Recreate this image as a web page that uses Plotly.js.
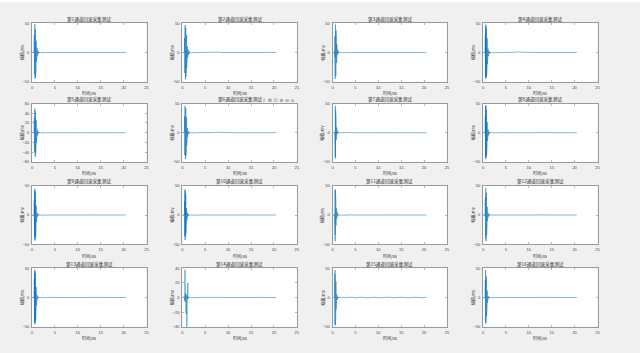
<!DOCTYPE html>
<html><head><meta charset="utf-8">
<script src="https://cdn.plot.ly/plotly-3.0.1.min.js"></script>
<style>html,body{margin:0;padding:0;background:#f0f0f0;}#chart{width:640px;height:353px;}</style>
</head><body><div id="chart"></div>
<script>
// ---- data ----
const channelTitles = ["第1通道回波采集测试","第2通道回波采集测试","第3通道回波采集测试","第4通道回波采集测试",
  "第5通道回波采集测试","第6通道回波采集测试","第7通道回波采集测试","第8通道回波采集测试",
  "第9通道回波采集测试","第10通道回波采集测试","第11通道回波采集测试","第12通道回波采集测试",
  "第13通道回波采集测试","第14通道回波采集测试","第15通道回波采集测试","第16通道回波采集测试"];
const xLabel = "时间/us";
const yLabel = "幅值/mv";
const xTicks = [0,5,10,15,20,25];

const tHead  = [0, 0.42];
const tBurst = [0.45,0.48,0.51,0.54,0.57,0.60,0.63,0.66,0.69,0.72,0.75,0.78,0.81,0.84,0.87,0.90,0.93,0.96,
                0.99,1.02,1.05,1.08,1.11,1.14,1.17,1.20,1.23,1.26,1.29,1.32,1.35,1.38,1.41,1.44,1.47,1.50];
const tTail  = [1.6,2.0,2.5,3.0,4.0,5.0,6.0,7.5,9.0,10.5,12.0,13.5,15.0,16.5,18.0,19.5,20.5];

const headZero = [0, 0];
const tailQuiet = [0.4,-0.3,0.2,-0.2,0.1,-0.1,0.1,-0.1,0.1,-0.1,0.1,-0.1,0.1,-0.1,0.1,-0.1,0];

const ch1  = [3,-12,30,-38,45,-44,49,-45,44,-42,40,-43,36,-38,30,-28,20,-15,10,-8,9,-7,8,-6,5,-4,4,-3,3,-2,2,-1.5,1.5,-1,1,-1];
const ch2  = [2,-10,25,-35,42,-44,47,-46,45,-44,43,-42,40,-38,36,-33,30,-26,22,-18,15,-12,10,-9,8,-7,6,-5,5,-4,4,-3,3,-2,2,-1.5];
const ch3  = [2,-8,28,-40,46,-45,48,-44,42,-40,38,-36,32,-28,24,-18,14,-10,8,-6,5,-4,4,-3,3,-2,2,-1.5,1.5,-1,1,-1,0.8,-0.6,0.5,-0.4];
const ch4  = [4,-15,32,-42,46,-45,48,-44,45,-43,41,-40,38,-35,32,-28,24,-20,16,-12,10,-8,7,-6,5,-4,4,-3,3,-2,2,-2,1.5,-1,1,-1];
const ch5  = [3,-14,30,-40,48,-46,50,-48,46,-50,44,-45,40,-38,34,-30,26,-20,14,-10,9,-7,8,-6,5,-4,4,-3,3,-2,2,-1.5,1.5,-1,1,-1];
const ch6  = [3,-12,28,-38,44,-45,46,-45,44,-43,42,-40,38,-36,33,-30,26,-22,18,-14,11,-9,8,-7,6,-5,4,-3,3,-2,2,-1.5,1.5,-1,1,-1];
const ch7  = [1,-6,22,-40,45,-44,46,-42,38,-34,30,-24,18,-12,9,-7,8,-6,5,-3,3,-2,2,-1.5,1.5,-1,1,-1,0.8,-0.6,0.5,-0.4,0.4,-0.3,0.3,-0.2];
const ch8  = [3,-14,30,-42,46,-45,47,-44,43,-42,40,-38,34,-30,26,-22,18,-14,11,-9,8,-7,6,-5,4,-3,3,-2,2,-1.5,1.5,-1,1,-1,0.8,-0.6];
const ch9  = [2,-10,26,-36,42,-44,45,-43,44,-42,40,-38,34,-30,26,-22,16,-12,9,-7,6,-5,4,-3,3,-2,2,-1.5,1.5,-1,1,-1,0.8,-0.6,0.5,-0.4];
const ch10 = [2,-8,24,-36,42,-43,44,-42,40,-38,35,-32,28,-24,20,-16,12,-10,8,-6,5,-4,4,-3,3,-2,2,-1.5,1.5,-1,1,-1,0.8,-0.6,0.5,-0.4];
const ch11 = [1,-5,18,-34,44,-45,42,-40,36,-30,24,-18,12,-9,7,-6,8,-6,5,-4,3,-2,2,-1.5,1.5,-1,1,-1,0.8,-0.6,0.5,-0.4,0.4,-0.3,0.3,-0.2];
const ch12 = [3,-12,30,-40,45,-44,46,-45,43,-41,38,-35,30,-26,22,-18,14,-10,8,-6,5,-4,4,-3,3,-2,2,-1.5,1.5,-1,1,-1,0.8,-0.6,0.5,-0.4];
const ch13 = [3,-14,32,-42,46,-46,47,-45,44,-44,42,-40,36,-32,28,-24,18,-14,10,-8,6,-5,4,-3,3,-2,2,-1.5,1.5,-1,1,-1,0.8,-0.6,0.5,-0.4];
const ch14 = [1,-3,5,-4,10,38,-6,5,-5,6,-4,5,-22,4,-5,3,-4,2,-40,2,-3,2,-2,1.5,-1.5,20,-1.5,1,-1,1,-0.8,0.8,-0.6,0.5,-0.4,0.3];
const ch15 = [2,-20,40,-46,47,-48,46,-45,40,-35,28,-20,14,-10,8,-6,5,-4,3,-2.5,2,-2,1.5,-1.5,1,-1,1,-1,0.8,-0.6,0.5,-0.4,0.4,-0.3,0.3,-0.2];
const ch16 = [3,-12,30,-42,47,-45,46,-44,42,-40,36,-32,28,-24,20,-16,12,-9,7,-5,4,-3,3,-2,2,-1.5,1.5,-1,1,-1,0.8,-0.6,0.5,-0.4,0.4,-0.3];

const tail2  = [0.8,-0.5,0.3,-0.2,0.1,-0.1,0.1,0.6,-0.1,0.1,-0.1,0.1,-0.1,0.1,-0.1,0.1,0];
const tail3  = [0.4,-0.3,0.2,-0.2,0.1,-0.1,0.1,0.4,-0.1,0.1,-0.1,0.1,-0.1,0.1,-0.1,0.1,0];
const tail4  = [0.6,-0.4,0.3,-0.2,0.1,-0.1,0.1,0.9,-0.1,0.1,-0.1,0.1,-0.1,0.1,-0.1,0.1,0];
const tail6  = [0.6,-0.4,0.3,-0.2,0.1,-0.1,0.1,0.7,-0.1,0.1,-0.1,0.1,-0.1,0.1,-0.1,0.1,0];
const tail15 = [0.6,-0.5,0.5,-0.4,0.5,-0.4,0.5,-0.5,0.4,-0.5,0.5,-0.4,0.5,-0.4,0.4,-0.4,0.2];

const bursts = [ch1,ch2,ch3,ch4,ch5,ch6,ch7,ch8,ch9,ch10,ch11,ch12,ch13,ch14,ch15,ch16];
const tails  = [tailQuiet,tail2,tail3,tail4,tailQuiet,tail6,tailQuiet,tailQuiet,
                tailQuiet,tailQuiet,tailQuiet,tailQuiet,tailQuiet,tailQuiet,tail15,tailQuiet];
const yRanges = [[-50,50],[-50,50],[-50,50],[-50,50],[-60,60],[-50,50],[-50,50],[-50,50],
                 [-50,50],[-50,50],[-50,50],[-50,50],[-50,50],[-40,40],[-50,50],[-50,50]];
const yTicks  = [[-50,0,50],[-50,0,50],[-50,0,50],[-50,0,50],[-60,-40,-20,0,20,40,60],[-50,0,50],[-50,0,50],[-50,0,50],
                 [-50,0,50],[-50,0,50],[-50,0,50],[-50,0,50],[-50,0,50],[-40,-20,0,20,40],[-50,0,50],[-50,0,50]];

// ---- layout geometry (pixels) ----
const W = 640, H = 353;
const colLeft = [32, 182.3, 332.5, 483];
const rowTop  = [23.3, 103.5, 185.8, 268.3];
const axW = 114.5, axH = 58.4;

const timeUs = tHead.concat(tBurst, tTail);
const traces = [];
const layout = {
  width: W, height: H, margin: {l:0, r:0, t:0, b:0},
  paper_bgcolor: '#f0f0f0', plot_bgcolor: '#ffffff', showlegend: false,
  font: {family: 'Liberation Sans, Noto Sans CJK SC, sans-serif', size: 4, color: '#404040'},
  annotations: [],
  shapes: [{type:'rect', xref:'paper', yref:'paper', x0:0, x1:1, y0:1-2/H, y1:1, fillcolor:'#ffffff', line:{width:0}, layer:'below'}]
};
for (let k = 0; k < 16; k++) {
  const r = Math.floor(k/4), c = k % 4;
  const sfx = k === 0 ? '' : String(k+1);
  const x0 = colLeft[c]/W, x1 = (colLeft[c]+axW)/W;
  const y1 = 1 - rowTop[r]/H, y0 = 1 - (rowTop[r]+axH)/H;
  traces.push({x: timeUs, y: headZero.concat(bursts[k], tails[k]), xaxis: 'x'+sfx, yaxis: 'y'+sfx,
    type: 'scatter', mode: 'lines', line: {color: '#0072BD', width: 0.5}, hoverinfo: 'skip'});
  const axCommon = {showline: true, mirror: 'ticks', linecolor: '#9a9a9a', linewidth: 1,
    ticks: 'inside', ticklen: 2, tickwidth: 0.6, tickcolor: '#8a8a8a', showgrid: false, zeroline: false,
    tickfont: {size: 4, color: '#404040'}, fixedrange: true};
  layout['xaxis'+sfx] = Object.assign({}, axCommon, {domain: [x0, x1], range: [0, 25], tickvals: xTicks,
    anchor: 'y'+sfx, ticklabelstandoff: 1});
  layout['yaxis'+sfx] = Object.assign({}, axCommon, {domain: [y0, y1], range: yRanges[k], tickvals: yTicks[k],
    anchor: 'x'+sfx, ticklabelstandoff: 1});
  layout.annotations.push({xref:'paper', yref:'paper', x:(x0+x1)/2, y:y1, yshift: 4, text: channelTitles[k],
    showarrow:false, xanchor:'center', yanchor:'middle', font:{size:4.6, color:'#262626', family:'Noto Sans CJK SC'}});
  layout.annotations.push({xref:'paper', yref:'paper', x:(x0+x1)/2, y:y0, yshift: -11.5, text: xLabel,
    showarrow:false, xanchor:'center', yanchor:'middle', font:{size:4, color:'#262626', family:'Noto Sans CJK SC'}});
  layout.annotations.push({xref:'paper', yref:'paper', x:x0, xshift:-10.5, y:(y0+y1)/2, text: yLabel, textangle:-90,
    showarrow:false, xanchor:'center', yanchor:'middle', font:{size:4, color:'#262626', family:'Noto Sans CJK SC'}});
  if (k === 5) {
    layout.annotations.push({xref:'paper', yref:'paper', x:x1, y:y1, yshift: 4, xshift:-1, text: '⇪ ⊞ ⊡ ⊕ ⊖ ⌂',
      showarrow:false, xanchor:'right', yanchor:'middle', font:{size:5, color:'#7a7a7a', family:'DejaVu Sans'}});
  }
}
Plotly.newPlot('chart', traces, layout, {displayModeBar: false, staticPlot: true});
</script></body></html>
